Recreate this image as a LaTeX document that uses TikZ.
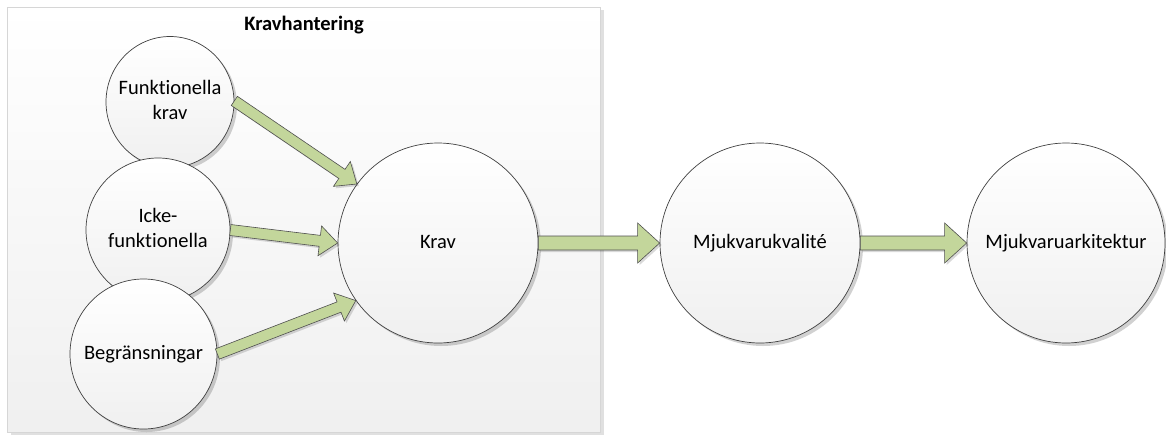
\documentclass[tikz,border=0pt]{standalone}
\usepackage{fontspec}
\setmainfont{Carlito}[Ligatures=NoCommon]
\usetikzlibrary{calc,shadows,shapes.geometric}

\definecolor{arrowgreen}{HTML}{C3D69B}
\definecolor{arrowedge}{HTML}{4F4F4F}
\definecolor{bubbleedge}{HTML}{404040}
\definecolor{paneledge}{HTML}{D6D6D6}

% centred text that takes no room, so the bubble keeps its given size
\newcommand\ctext[1]{\vbox to 0pt{\vss\hbox to 0pt{\hss\begin{tabular}{@{}c@{}}#1\end{tabular}\hss}\vss}}

\tikzset{
  labeltext/.style={font=\fontsize{20.5}{25}\selectfont, text=black},
  bubble/.style={ellipse, draw=bubbleedge, line width=0.7pt, inner sep=0pt,
    labeltext, top color=white, bottom color=black!6,
    drop shadow={shadow xshift=3pt, shadow yshift=-3pt, opacity=0.18, fill=black}},
  panel/.style={draw=paneledge, line width=0.8pt, top color=white, bottom color=black!6,
    drop shadow={shadow xshift=4pt, shadow yshift=-3pt, opacity=0.12, fill=black}},
  arrowbody/.style={fill=arrowgreen, draw=arrowedge, line width=0.6pt, line join=miter,
    drop shadow={shadow xshift=2pt, shadow yshift=-2pt, opacity=0.15, fill=black}},
}

% block arrow: from, to, shaft half width, head half width, head length
\newcommand\blockarrow[5]{%
  \coordinate (ba-h) at ($(#2)!#5!(#1)$);
  \path[arrowbody]
    ($(#1)!#3!90:(#2)$) -- ($(ba-h)!#3!90:(#2)$) -- ($(ba-h)!#4!90:(#2)$)
    -- (#2)
    -- ($(ba-h)!#4!-90:(#2)$) -- ($(ba-h)!#3!-90:(#2)$) -- ($(#1)!#3!-90:(#2)$)
    -- cycle;}

\begin{document}
\begin{tikzpicture}[x=1pt,y=-1pt]
  \useasboundingbox (0,0) rectangle (1166,437);

  % requirements handling panel
  \path[panel] (7,7) rectangle (600,432);
  \node[labeltext, font=\fontsize{20.5}{25}\selectfont\bfseries] (title) at (304,25) {Kravhantering};

  % requirement sources
  \node[bubble, minimum width=128pt, minimum height=131pt] (fk) at (170,102) {\ctext{Funktionella\\krav}};
  \node[bubble, minimum width=144pt, minimum height=144pt] (ic) at (158,230) {\ctext{Icke-\\funktionella}};
  \node[bubble, minimum width=147pt, minimum height=150pt] (bg) at (143.5,354) {\ctext{Begränsningar}};

  % main chain
  \node[bubble, minimum width=200pt, minimum height=200pt] (kr) at (438,243) {\ctext{Krav}};
  \node[bubble, minimum width=200pt, minimum height=200pt] (mk) at (760,243) {\ctext{Mjukvarukvalité}};
  \node[bubble, minimum width=198pt, minimum height=200pt] (ma) at (1066,243) {\ctext{Mjukvaruarkitektur}};

  % connectors
  \blockarrow{fk.1}{kr.144}{5.5pt}{15pt}{18pt}
  \blockarrow{ic.0}{kr.180}{5.5pt}{15pt}{18pt}
  \blockarrow{bg.0}{kr.215}{5.5pt}{15pt}{18pt}
  \blockarrow{kr.0}{mk.180}{7pt}{20pt}{22pt}
  \blockarrow{mk.0}{ma.180}{7pt}{20pt}{22pt}
\end{tikzpicture}
\end{document}
